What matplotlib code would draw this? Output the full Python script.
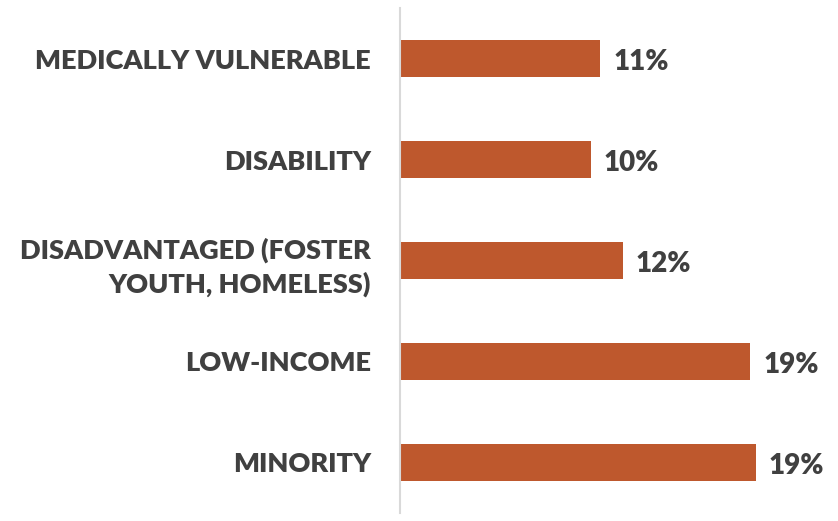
import matplotlib.pyplot as plt

# categories from top to bottom
groups = ['MEDICALLY VULNERABLE', 'DISABILITY', 'DISADVANTAGED (FOSTER\nYOUTH, HOMELESS)',
          'LOW-INCOME', 'MINORITY']
shares = [10.7, 10.2, 11.9, 18.7, 19.0]
share_labels = ['11%', '10%', '12%', '19%', '19%']

bar_color = '#BE582D'
text_color = '#404040'

fig = plt.figure(figsize=(8.38, 5.21), dpi=100)
ax = fig.add_axes([0.4773, 0.0154, 0.5227, 0.9692])

pos = range(len(groups))
ax.barh(pos, shares, height=0.36, color=bar_color)
ax.set_yticks(list(pos))
ax.set_yticklabels(groups, fontsize=19.5, fontweight='heavy', color=text_color,
                   family='Lato', linespacing=1.4)
ax.tick_params(axis='y', length=0, pad=21)
ax.set_ylim(4.5, -0.5)
ax.set_xlim(0, 23.4)
ax.set_xticks([])

for y, v, lab in zip(pos, shares, share_labels):
    ax.text(v + 0.7, y + 0.03, lab, va='center', ha='left', fontsize=20,
            fontweight='heavy', color=text_color, family='Lato')

for s in ['top', 'right', 'bottom']:
    ax.spines[s].set_visible(False)
ax.spines['left'].set_color('#D9D9D9')
ax.spines['left'].set_linewidth(1.5)

fig.savefig('out.png', dpi=100)
